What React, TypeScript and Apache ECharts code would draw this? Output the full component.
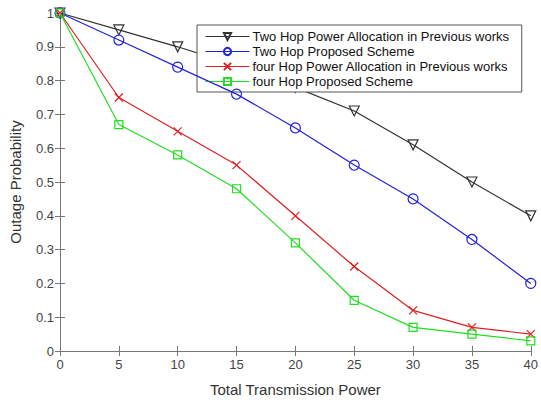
import React, { useEffect, useRef } from "react";
import * as echarts from "echarts";

const powers = [0, 5, 10, 15, 20, 25, 30, 35, 40];
const twoHopPrev = [1, 0.95, 0.9, 0.845, 0.78, 0.71, 0.61, 0.5, 0.4];
const twoHopProp = [1, 0.92, 0.84, 0.76, 0.66, 0.55, 0.45, 0.33, 0.2];
const fourHopPrev = [1, 0.75, 0.65, 0.55, 0.4, 0.25, 0.12, 0.07, 0.05];
const fourHopProp = [1, 0.67, 0.58, 0.48, 0.32, 0.15, 0.07, 0.05, 0.03];

const names = [
  "Two Hop Power Allocation in Previous works",
  "Two Hop Proposed Scheme",
  "four Hop Power Allocation in Previous works",
  "four Hop Proposed Scheme",
];
const colors = ["#333333", "#2222dd", "#e02020", "#22dd22"];
const symbols = [
  "path://M0,0 L10,0 L5,9 Z",
  "circle",
  "path://M0,0 L10,10 M10,0 L0,10",
  "rect",
];
const symbolSizes = [10, 10, 8, 8];

const FONT = "'Liberation Sans', Arial, sans-serif";

export default function App() {
  const ref = useRef<HTMLDivElement>(null);
  useEffect(() => {
    if (!ref.current) return;
    const chart = echarts.init(ref.current, undefined, { renderer: "svg" });
    const all = [twoHopPrev, twoHopProp, fourHopPrev, fourHopProp];
    const series = all.map((vals, i) => ({
      name: names[i],
      type: "line",
      data: powers.map((p, j) => [p, vals[j]]),
      symbol: symbols[i],
      symbolSize: symbolSizes[i],
      showAllSymbol: true,
      lineStyle: { color: colors[i], width: 1.2 },
      itemStyle: { color: "rgba(0,0,0,0)", borderColor: colors[i], borderWidth: 1.2 },
      z: 3 + i,
    }));
    const axisLine = { show: true, lineStyle: { color: "#777", width: 1 } };
    const axisTick = { show: true, inside: true, length: 5, lineStyle: { color: "#777" } };
    chart.setOption({
      animation: false,
      backgroundColor: "#fff",
      textStyle: { fontFamily: FONT },
      grid: { left: 57, right: 6, top: 13, bottom: 42 },
      legend: {
        left: 197,
        top: 25,
        orient: "vertical",
        itemWidth: 44,
        itemHeight: 9,
        itemGap: 0,
        padding: [4, 12, 3, 8],
        backgroundColor: "#fff",
        borderColor: "#555",
        borderWidth: 1,
        borderRadius: 0,
        lineStyle: { width: 1 },
        textStyle: {
          fontSize: 13,
          lineHeight: 15,
          color: "#111",
          fontFamily: FONT,
          padding: [0, 0, 0, -2],
        },
        data: names,
      },
      xAxis: [
        {
          type: "value",
          min: 0,
          max: 40,
          interval: 5,
          name: "Total Transmission Power",
          nameLocation: "middle",
          nameGap: 31,
          nameTextStyle: { fontSize: 15, color: "#333", fontFamily: FONT },
          axisLine,
          axisTick,
          splitLine: { show: false },
          axisLabel: { fontSize: 13, color: "#444", margin: 7, fontFamily: FONT },
        },
        {
          type: "value",
          position: "top",
          min: 0,
          max: 40,
          interval: 5,
          axisLine,
          axisTick,
          splitLine: { show: false },
          axisLabel: { show: false },
        },
      ],
      yAxis: [
        {
          type: "value",
          min: 0,
          max: 1,
          interval: 0.1,
          name: "Outage Probability",
          nameLocation: "middle",
          nameGap: 37,
          nameTextStyle: { fontSize: 15, color: "#333", fontFamily: FONT },
          axisLine,
          axisTick,
          splitLine: { show: false },
          axisLabel: { fontSize: 13, color: "#444", margin: 6, fontFamily: FONT },
        },
        {
          type: "value",
          position: "right",
          min: 0,
          max: 1,
          interval: 0.1,
          axisLine,
          axisTick,
          splitLine: { show: false },
          axisLabel: { show: false },
        },
      ],
      series,
    });
    return () => chart.dispose();
  }, []);
  return (
    <div
      ref={ref}
      style={{ position: "absolute", left: 0, top: 0, width: 541, height: 402 }}
    />
  );
}
